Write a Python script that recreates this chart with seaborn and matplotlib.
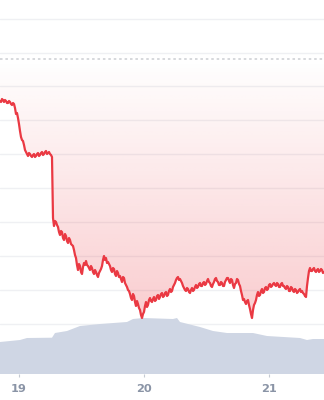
import numpy as np
import pandas as pd
import matplotlib
matplotlib.use("Agg")
import matplotlib.pyplot as plt
import matplotlib.transforms as mtransforms
import seaborn as sns

# ---- data ----
start_day = 18.848          # first sample (day of month, fractional)
step_day = 0.008            # regular sampling interval in days
price_a = [29.9, 29.8, 30.1, 30.0, 29.8, 30.0, 29.9, 29.7, 29.7, 29.9,
           29.8, 29.6, 29.5, 29.7, 29.6, 29.2, 28.6, 28.7, 28.2, 27.6,
           26.9, 26.3, 26.0, 25.9, 25.5, 25.0, 24.8, 24.6, 24.4, 24.7,
           24.6, 24.4, 24.3, 24.5, 24.6, 24.3, 24.4, 24.6, 24.7, 24.4,
           24.5, 24.7, 24.8, 24.5, 24.6, 24.8, 24.9, 24.6, 24.7, 24.8,
           24.6, 24.5, 24.3]
price_b = [18.2, 17.4, 17.9, 17.8, 17.5, 17.3, 16.8, 16.5, 16.9, 16.8,
           16.2, 16.0, 16.6, 16.4, 15.9, 15.7, 16.2, 16.0, 15.6, 15.5,
           15.4, 15.0, 14.5, 14.2, 13.5, 13.0, 13.6, 13.4, 12.8, 12.6,
           13.3, 13.7, 13.5, 13.9, 13.5, 13.4, 13.2, 13.0, 13.4, 13.2,
           12.8, 12.6, 13.0, 12.8, 12.5, 12.3, 12.7]
price_c = [12.9, 13.1, 13.4, 14.0, 14.4, 14.0, 14.2, 13.7, 13.8, 13.6,
           13.4, 13.0, 12.8, 13.2, 13.1, 12.6, 12.4, 12.9, 12.7, 12.3,
           12.4, 12.1, 11.8, 12.3, 12.2, 11.7, 11.5, 11.3, 11.0, 10.9,
           10.6, 10.2, 10.0, 10.6, 10.4, 9.8, 9.4, 9.9, 9.6, 9.2,
           9.0, 8.5, 8.2, 8.6, 8.8, 9.4, 9.8, 9.3, 9.5, 10.0]
price_d = [10.2, 9.9, 9.8, 10.1, 10.3, 9.9, 10.0, 10.4, 10.5, 10.1,
           10.3, 10.6, 10.7, 10.3, 10.4, 10.7, 10.8, 10.4, 10.5, 10.9,
           11.1, 10.8, 10.9, 11.3, 11.5, 11.7, 12.0, 12.2, 12.3, 12.0,
           12.1, 11.9, 11.7, 11.4, 11.2, 11.0, 10.9, 11.2, 11.1, 10.8,
           10.7, 11.0, 11.2, 10.9, 11.0, 11.3, 11.5, 11.2, 11.3, 11.6]
price_e = [11.7, 11.4, 11.4, 11.7, 11.8, 11.5, 11.6, 11.9, 12.1, 11.8,
           11.7, 11.4, 11.3, 11.6, 11.8, 12.1, 12.2, 11.9, 11.8, 11.5,
           11.5, 11.8, 11.7, 11.4, 11.4, 11.8, 12.0, 12.2, 12.2, 11.9,
           11.7, 12.1, 12.0, 11.5, 11.2, 11.6, 11.7, 12.1, 12.0, 11.6,
           11.4, 10.9, 10.5, 10.0, 10.1, 9.8, 9.6, 9.9, 10.0, 9.5]
price_f = [9.1, 8.6, 8.2, 9.0, 9.5, 9.7, 10.0, 10.5, 10.8, 10.4,
           10.5, 10.9, 11.1, 10.7, 10.8, 11.2, 11.3, 11.0, 11.1, 11.5,
           11.6, 11.3, 11.4, 11.6, 11.7, 11.5, 11.4, 11.7, 11.6, 11.3,
           11.3, 11.6, 11.7, 11.4, 11.4, 11.2, 11.1, 11.4, 11.3, 10.9,
           10.9, 11.3, 11.2, 10.9, 10.8, 11.1, 11.0, 10.7, 10.8, 11.0]
price_g = [11.1, 10.8, 10.9, 10.7, 10.6, 10.4, 10.3, 11.4, 12.2, 12.9,
           13.2, 12.9, 12.9, 13.1, 13.2, 12.9, 12.8, 13.0, 13.1, 12.8,
           12.9, 13.1, 13.0, 12.7, 12.8]
price = price_a + price_b + price_c + price_d + price_e + price_f + price_g

baseline_price = 34.1
grid_levels = [38.1, 34.7, 31.4, 28.0, 24.6, 21.2, 17.8, 14.4, 11.0, 7.6]

vol_day = [18.848, 19.008, 19.064, 19.264, 19.288, 19.384, 19.488, 19.648, 19.864,
           19.912, 19.992, 20.232, 20.264, 20.288, 20.448, 20.552, 20.664, 20.872,
           20.984, 21.248, 21.304, 21.352, 21.44]
volume = [32, 34, 36, 36.3, 41, 43, 48, 50, 52, 55, 56, 55, 56, 52, 47, 43, 41, 41,
          38, 36, 34, 35, 35]

day_ticks = [19, 20, 21]
day_labels = ["19", "20", "21"]

# ---- styling ----
sns.set_theme(style="white")
plt.rcParams["font.family"] = ["DejaVu Sans"]

RED = "#ea3943"
VOL = "#cfd6e4"
GRID = "#eff0f3"
TICK = "#8a94a6"

days = start_day + step_day * np.arange(len(price))
df = pd.DataFrame({"day": days, "price": price})

fig = plt.figure(figsize=(3.24, 4.00), dpi=100)
ax = fig.add_axes([0, 26 / 400, 1, 374 / 400])

xmin, xmax = 18.848, 21.44
ymin, ymax = 2.6, 40.0

# volume area in its own vertical units (axes fraction scaled)
vol_trans = mtransforms.Affine2D().scale(1, 1 / 374) + \
    mtransforms.blended_transform_factory(ax.transData, ax.transAxes)
ax.fill_between(vol_day, 0, volume, color=VOL, lw=0, zorder=1, transform=vol_trans)

# gradient fill between baseline and price line
poly = ax.fill_between(df["day"], df["price"], baseline_price, color="none", lw=0)
nrow = 256
alpha = np.linspace(0.0, 0.31, nrow)[:, None]
rgb = np.array(matplotlib.colors.to_rgb(RED))
img = np.zeros((nrow, 1, 4))
img[..., :3] = rgb
img[..., 3] = alpha
im = ax.imshow(img, extent=[xmin, xmax, ymin, baseline_price], origin="upper",
               aspect="auto", zorder=1.5, interpolation="bilinear")
path = poly.get_paths()[0]
im.set_clip_path(path, transform=ax.transData)

# baseline dotted line
ax.axhline(baseline_price, color="#d3d5d9", lw=1.3, ls=(0, (1.4, 1.6)), zorder=2)

sns.lineplot(data=df, x="day", y="price", ax=ax, color=RED, lw=1.6, zorder=3)

ax.set_xlim(xmin, xmax)
ax.set_ylim(ymin, ymax)
ax.set_yticks(grid_levels)
ax.set_yticklabels([])
ax.tick_params(axis="y", length=0)
ax.grid(axis="y", color=GRID, lw=1.0, zorder=0)
ax.set_axisbelow(True)

ax.set_xticks(day_ticks)
ax.set_xticklabels(day_labels, fontsize=8.2, fontweight="bold", color=TICK)
ax.tick_params(axis="x", length=2.5, width=0.8, color="#c5cad3", pad=5, direction="out",
               bottom=True)
ax.set_xlabel("")
ax.set_ylabel("")
for s in ax.spines.values():
    s.set_visible(False)

fig.savefig("out.png", dpi=100)
